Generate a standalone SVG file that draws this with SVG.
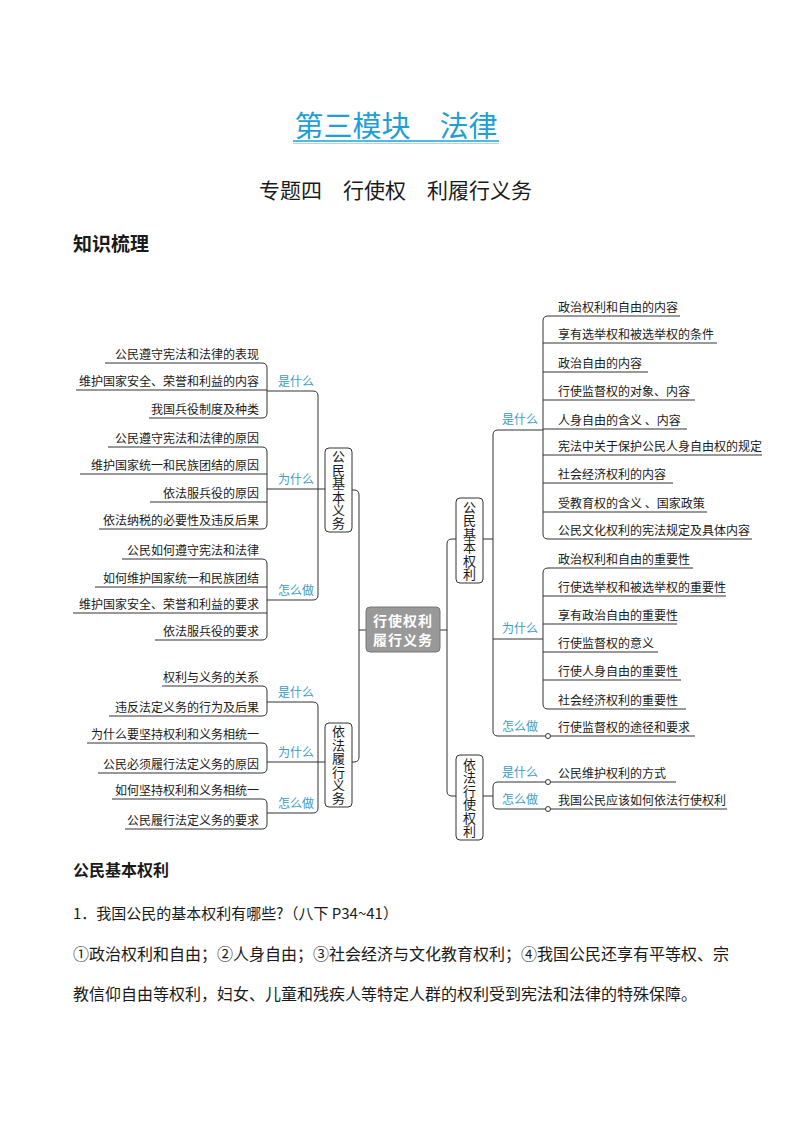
<svg xmlns="http://www.w3.org/2000/svg" width="794" height="1123" viewBox="0 0 794 1123">
<style>
.ln{fill:none;stroke:#333;stroke-width:1}
.t{font-family:"Noto Sans CJK SC","Noto Sans",sans-serif;fill:#1a1a1a}
.leaf{font-size:12px}
.le{text-anchor:end}
.lbl{font-size:12px;fill:#3c9cc3}
.vt{font-size:13px;writing-mode:vertical-rl;letter-spacing:0.4px}
.box{fill:#fff;stroke:#333;stroke-width:1}
.dot{fill:#fff;stroke:#333;stroke-width:1}
</style>
<rect width="794" height="1123" fill="#fff"/>
<g id="header">
<text class="t" x="396" y="137" text-anchor="middle" font-size="29" style="fill:#1e9fd6">第三模块　法律</text>
<line x1="293" y1="141" x2="499" y2="141" stroke="#1e9fd6" stroke-width="1.5"/>
<line x1="293" y1="143.5" x2="499" y2="143.5" stroke="#8fd0ea" stroke-width="0.8"/>
<text class="t" x="259" y="198" font-size="21">专题四　行使权　利履行义务</text>
<text class="t" x="73" y="251" font-size="19" font-weight="bold">知识梳理</text>
</g>
<g id="connectors">
<path class="ln" d="M352 490 H354 Q359 490 359 495 V757 Q359 762 354 762 H352"/>
<path class="ln" d="M359 630 H366"/>
<path class="ln" d="M456 539 H452 Q447 539 447 544 V791 Q447 796 452 796 H456"/>
<path class="ln" d="M440 630 H447"/>
<path class="ln" d="M267 391 H313 Q318 391 318 396 V595 Q318 600 313 600 H267"/>
<path class="ln" d="M267 489 H325"/>
<path class="ln" d="M105 363 H262 Q267 363 267 368 V413 Q267 418 262 418 H149"/>
<path class="ln" d="M76 390 H267"/>
<path class="ln" d="M108 447 H262 Q267 447 267 452 V524 Q267 529 262 529 H99"/>
<path class="ln" d="M80 474 H267"/>
<path class="ln" d="M150 502 H267"/>
<path class="ln" d="M122 559 H262 Q267 559 267 564 V635 Q267 640 262 640 H155"/>
<path class="ln" d="M95 587 H267"/>
<path class="ln" d="M73 613 H267"/>
<path class="ln" d="M267 702 H313 Q318 702 318 707 V808 Q318 813 313 813 H267"/>
<path class="ln" d="M267 762 H325"/>
<path class="ln" d="M162 686 H262 Q267 686 267 691 V711 Q267 716 262 716 H109"/>
<path class="ln" d="M87 743 H262 Q267 743 267 748 V768 Q267 773 262 773 H98"/>
<path class="ln" d="M112 799 H262 Q267 799 267 804 V824 Q267 829 262 829 H125"/>
<path class="ln" d="M483 539 H493"/>
<path class="ln" d="M543 430 H498 Q493 430 493 435 V731 Q493 736 498 736 H545.5"/>
<path class="ln" d="M493 639 H543"/>
<path class="ln" d="M680 316 H548 Q543 316 543 321 V534 Q543 539 548 539 H752"/>
<path class="ln" d="M543 343 H717"/>
<path class="ln" d="M543 372 H648"/>
<path class="ln" d="M543 400 H695"/>
<path class="ln" d="M543 429 H687"/>
<path class="ln" d="M543 455 H762"/>
<path class="ln" d="M543 483 H673"/>
<path class="ln" d="M543 512 H707"/>
<path class="ln" d="M693 568 H548 Q543 568 543 573 V704 Q543 709 548 709 H686"/>
<path class="ln" d="M543 596 H726"/>
<path class="ln" d="M543 624 H677"/>
<path class="ln" d="M543 652 H658"/>
<path class="ln" d="M543 680 H681"/>
<path class="ln" d="M550.5 736 H695"/>
<circle class="dot" cx="548" cy="736" r="2.5"/>
<path class="ln" d="M483 796 H493"/>
<path class="ln" d="M545.5 782 H498 Q493 782 493 787 V804 Q493 809 498 809 H545.5"/>
<path class="ln" d="M550.5 782 H676"/>
<path class="ln" d="M550.5 809 H727"/>
<circle class="dot" cx="548" cy="782" r="2.5"/>
<circle class="dot" cx="548" cy="809" r="2.5"/>
</g>
<g id="center">
<rect x="366" y="607" width="74" height="45" rx="4" fill="#999" stroke="#777" stroke-width="1"/>
<text class="t" x="403" y="626" text-anchor="middle" font-size="14" font-weight="bold" letter-spacing="1" style="fill:#fff">行使权利</text>
<text class="t" x="403" y="645" text-anchor="middle" font-size="14" font-weight="bold" letter-spacing="1" style="fill:#fff">履行义务</text>
</g>
<g id="node-gmjbyw">
<rect class="box" x="325" y="448" width="27" height="84" rx="4"/>
<text class="t vt" x="338.5" y="450">公民基本义务</text>
</g>
<g id="node-yflxyw">
<rect class="box" x="325" y="723" width="27" height="84" rx="4"/>
<text class="t vt" x="338.5" y="725">依法履行义务</text>
</g>
<g id="node-gmjbql">
<rect class="box" x="456" y="498" width="27" height="85" rx="4"/>
<text class="t vt" x="469.5" y="500.5">公民基本权利</text>
</g>
<g id="node-yfxsql">
<rect class="box" x="456" y="755" width="27" height="85" rx="4"/>
<text class="t vt" x="469.5" y="757.5">依法行使权利</text>
</g>
<g id="labels-left">
<text class="t lbl" x="296" y="386" text-anchor="middle">是什么</text>
<text class="t lbl" x="296" y="484" text-anchor="middle">为什么</text>
<text class="t lbl" x="296" y="595" text-anchor="middle">怎么做</text>
<text class="t lbl" x="296" y="697" text-anchor="middle">是什么</text>
<text class="t lbl" x="296" y="757" text-anchor="middle">为什么</text>
<text class="t lbl" x="296" y="808" text-anchor="middle">怎么做</text>
</g>
<g id="leaves-left">
<text class="t leaf le" x="259" y="359">公民遵守宪法和法律的表现</text>
<text class="t leaf le" x="259" y="386">维护国家安全、荣誉和利益的内容</text>
<text class="t leaf le" x="259" y="414">我国兵役制度及种类</text>
<text class="t leaf le" x="259" y="443">公民遵守宪法和法律的原因</text>
<text class="t leaf le" x="259" y="470">维护国家统一和民族团结的原因</text>
<text class="t leaf le" x="259" y="498">依法服兵役的原因</text>
<text class="t leaf le" x="259" y="525">依法纳税的必要性及违反后果</text>
<text class="t leaf le" x="259" y="555">公民如何遵守宪法和法律</text>
<text class="t leaf le" x="259" y="583">如何维护国家统一和民族团结</text>
<text class="t leaf le" x="259" y="609">维护国家安全、荣誉和利益的要求</text>
<text class="t leaf le" x="259" y="636">依法服兵役的要求</text>
<text class="t leaf le" x="259" y="682">权利与义务的关系</text>
<text class="t leaf le" x="259" y="712">违反法定义务的行为及后果</text>
<text class="t leaf le" x="259" y="739">为什么要坚持权利和义务相统一</text>
<text class="t leaf le" x="259" y="769">公民必须履行法定义务的原因</text>
<text class="t leaf le" x="259" y="795">如何坚持权利和义务相统一</text>
<text class="t leaf le" x="259" y="825">公民履行法定义务的要求</text>
</g>
<g id="labels-right">
<text class="t lbl" x="520" y="424" text-anchor="middle">是什么</text>
<text class="t lbl" x="520" y="633" text-anchor="middle">为什么</text>
<text class="t lbl" x="520" y="731" text-anchor="middle">怎么做</text>
<text class="t lbl" x="520" y="777" text-anchor="middle">是什么</text>
<text class="t lbl" x="520" y="804" text-anchor="middle">怎么做</text>
</g>
<g id="leaves-right">
<text class="t leaf" x="558" y="312">政治权利和自由的内容</text>
<text class="t leaf" x="558" y="339">享有选举权和被选举权的条件</text>
<text class="t leaf" x="558" y="368">政治自由的内容</text>
<text class="t leaf" x="558" y="396">行使监督权的对象、内容</text>
<text class="t leaf" x="558" y="425">人身自由的含义 、内容</text>
<text class="t leaf" x="558" y="451">宪法中关于保护公民人身自由权的规定</text>
<text class="t leaf" x="558" y="479">社会经济权利的内容</text>
<text class="t leaf" x="558" y="508">受教育权的含义 、国家政策</text>
<text class="t leaf" x="558" y="535">公民文化权利的宪法规定及具体内容</text>
<text class="t leaf" x="558" y="564">政治权利和自由的重要性</text>
<text class="t leaf" x="558" y="592">行使选举权和被选举权的重要性</text>
<text class="t leaf" x="558" y="620">享有政治自由的重要性</text>
<text class="t leaf" x="558" y="648">行使监督权的意义</text>
<text class="t leaf" x="558" y="676">行使人身自由的重要性</text>
<text class="t leaf" x="558" y="705">社会经济权利的重要性</text>
<text class="t leaf" x="558" y="732">行使监督权的途径和要求</text>
<text class="t leaf" x="558" y="778">公民维护权利的方式</text>
<text class="t leaf" x="558" y="805">我国公民应该如何依法行使权利</text>
</g>
<g id="body-text">
<text class="t" x="73" y="876" font-size="16" font-weight="bold">公民基本权利</text>
<text class="t" x="73" y="919" font-size="15">1．我国公民的基本权利有哪些?（八下 P34~41）</text>
<text class="t" x="73" y="960" font-size="16">①政治权利和自由；②人身自由；③社会经济与文化教育权利；④我国公民还享有平等权、宗</text>
<text class="t" x="73" y="1000" font-size="16">教信仰自由等权利，妇女、儿童和残疾人等特定人群的权利受到宪法和法律的特殊保障。</text>
</g>
</svg>
